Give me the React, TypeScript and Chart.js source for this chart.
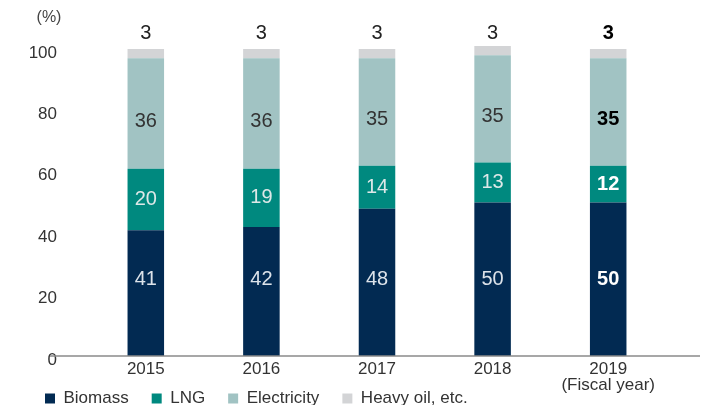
import React, { useEffect, useRef } from "react";
import { Chart, registerables } from "chart.js";

Chart.register(...registerables);

const years: (string | string[])[] = ["2015", "2016", "2017", "2018", ["2019", "(Fiscal year)"]];
const biomass = [41, 42, 48, 50, 50];
const lng = [20, 19, 14, 13, 12];
const electricity = [36, 36, 35, 35, 35];
const heavyOil = [3, 3, 3, 3, 3];
const seriesNames = ["Biomass", "LNG", "Electricity", "Heavy oil, etc."];
const yTicks = [0, 20, 40, 60, 80, 100];
const unitLabel = "(%)";
const highlightIndex = 4;
const biomassLabelLevel = 25;
const topLabelLevel = 105;

const COLORS = ["#022a52", "#00897f", "#a1c3c3", "#d3d4d6"];
const FONT = '"Liberation Sans", Arial, sans-serif';

export default function App() {
  const ref = useRef<HTMLCanvasElement | null>(null);

  useEffect(() => {
    if (!ref.current) return;

    const labelsPlugin = {
      id: "segLabels",
      afterDatasetsDraw(chart: any) {
        const ctx = chart.ctx;
        const yScale = chart.scales.y;
        ctx.save();
        ctx.textAlign = "center";
        ctx.textBaseline = "middle";
        chart.data.datasets.forEach((ds: any, di: number) => {
          const meta = chart.getDatasetMeta(di);
          meta.data.forEach((bar: any, i: number) => {
            const p = bar.getProps(["x", "y", "base"], true);
            const bold = i === highlightIndex;
            ctx.font = `${bold ? "bold " : ""}20px ${FONT}`;
            let y: number;
            let color: string;
            if (di === 0) {
              y = yScale.getPixelForValue(biomassLabelLevel);
              color = bold ? "#ffffff" : "#dde3ea";
            } else if (di === 1) {
              y = (p.y + p.base) / 2;
              color = bold ? "#ffffff" : "#dde8e8";
            } else if (di === 2) {
              y = (p.y + p.base) / 2 + 8;
              color = bold ? "#000000" : "#333333";
            } else {
              y = yScale.getPixelForValue(topLabelLevel);
              color = bold ? "#000000" : "#222222";
            }
            ctx.fillStyle = color;
            ctx.fillText(String(ds.data[i]), p.x, y);
          });
        });
        // unit label
        ctx.font = `16px ${FONT}`;
        ctx.fillStyle = "#444444";
        ctx.fillText(unitLabel, chart.chartArea.left - 39, 18);
        // baseline axis line
        const y0 = yScale.getPixelForValue(0);
        ctx.strokeStyle = "#8a8a8a";
        ctx.lineWidth = 1.5;
        ctx.beginPath();
        ctx.moveTo(chart.chartArea.left - 38, y0);
        ctx.lineTo(chart.chartArea.right + 34, y0);
        ctx.stroke();
        ctx.restore();
      },
    };

    const mk = (i: number, data: number[]) => ({
      label: seriesNames[i],
      data,
      backgroundColor: COLORS[i],
      borderWidth: 0,
      barPercentage: 0.316,
      categoryPercentage: 1,
      clip: false as any,
    });

    const chart = new Chart(ref.current, {
      type: "bar",
      data: {
        labels: years as any,
        datasets: [
          mk(0, biomass),
          mk(1, lng),
          mk(2, electricity),
          mk(3, heavyOil),
        ],
      },
      options: {
        animation: false,
        responsive: false,
        devicePixelRatio: 1,
        layout: { padding: { left: 22, right: 47, top: 49, bottom: 0 } },
        plugins: {
          tooltip: { enabled: false },
          legend: {
            position: "bottom",
            align: "start",
            labels: {
              boxWidth: 10,
              boxHeight: 10,
              padding: 23,
              color: "#333333",
              font: { family: FONT, size: 17 },
            },
          },
        },
        scales: {
          x: {
            stacked: true,
            grid: { display: false, drawTicks: false },
            border: { display: false },
            ticks: {
              color: "#333333",
              padding: 5,
              font: { family: FONT, size: 17, lineHeight: 0.95 },
            },
            afterFit: (s: any) => {
              s.height = 11;
              // let the tick labels extend below the (short) axis box
              s._computeLabelArea = () => undefined;
            },
          },
          y: {
            stacked: true,
            min: 0,
            max: 100,
            grid: { display: false, drawTicks: false },
            border: { display: false },
            ticks: {
              color: "#333333",
              padding: 31,
              labelOffset: 4,
              font: { family: FONT, size: 17 },
            },
            afterBuildTicks: (s: any) => {
              s.ticks = yTicks.map((v) => ({ value: v }));
            },
            afterFit: (s: any) => {
              s.width = 66;
            },
          },
        },
      },
      plugins: [labelsPlugin],
    });

    return () => chart.destroy();
  }, []);

  return (
    <div style={{ position: "fixed", left: 0, top: 0, width: 713, height: 417, background: "#fff" }}>
      <canvas ref={ref} width={713} height={417} style={{ display: "block" }} />
    </div>
  );
}
